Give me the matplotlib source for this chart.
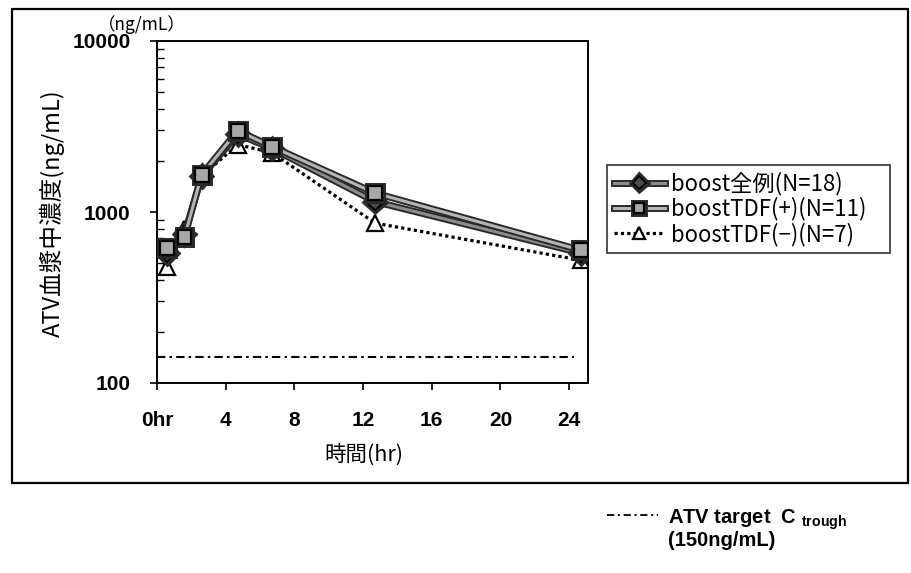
import matplotlib
matplotlib.use("Agg")
import matplotlib.pyplot as plt
import matplotlib.patheffects as pe
from matplotlib.patches import Rectangle
from matplotlib.lines import Line2D
from matplotlib.ticker import LogLocator, NullFormatter, FixedLocator, FixedFormatter

# ---- data ----
time_hr = [0.6, 1.6, 2.6, 4.7, 6.7, 12.7, 24.7]
boost_all = [575, 740, 1620, 2850, 2350, 1150, 575]
boost_tdf_pos = [614, 713, 1650, 2990, 2410, 1290, 597]
boost_tdf_neg = [474, 794, 1620, 2480, 2220, 861, 522]
target_x = [0, 24.3]
target_y = [142, 142]

x_ticks = [0, 4, 8, 12, 16, 20, 24]
x_tick_labels = ["0hr", "4", "8", "12", "16", "20", "24"]
y_ticks = [100, 1000, 10000]
y_tick_labels = ["100", "1000", "10000"]

labels = ["boost全例(N=18)", "boostTDF(+)(N=11)", "boostTDF(−)(N=7)"]

W, H = 911, 573
fig = plt.figure(figsize=(W / 100, H / 100), dpi=100)
fig.patch.set_facecolor("white")

cjk = ["Noto Sans CJK JP", "DejaVu Sans"]


def fx(px):
    return px / W


def fy(py):
    return 1 - py / H


# outer frame
fig.patches.append(Rectangle((fx(12), fy(483)), (908 - 12) / W, (483 - 9) / H,
                             transform=fig.transFigure, fill=False,
                             edgecolor="black", linewidth=1.6))

ax = fig.add_axes([fx(157), fy(383), (588 - 157) / W, (383 - 41) / H])
ax.set_yscale("log")
ax.set_xlim(0, 25.1)
ax.set_ylim(100, 10000)

dashdot = (0, (4, 2, 1.2, 2))
ax.plot(target_x, target_y, color="black", linewidth=1.5,
        linestyle=dashdot, zorder=2)

l_neg, = ax.plot(time_hr, boost_tdf_neg, color="black", linewidth=2.3,
                 linestyle=(0, (1, 1)), marker="^", markersize=11,
                 markerfacecolor="white", markeredgecolor="black",
                 markeredgewidth=1.6, zorder=3)
l_all, = ax.plot(time_hr, boost_all, color="#8c8c8c", linewidth=2.2,
                 marker="D", markersize=9, markerfacecolor="#4a4a4a",
                 markeredgecolor="black", markeredgewidth=1.2,
                 path_effects=[pe.Stroke(linewidth=5.0, foreground="#2a2a2a"),
                               pe.Normal()], zorder=4)
l_pos, = ax.plot(time_hr, boost_tdf_pos, color="#b5b5b5", linewidth=2.2,
                 marker="s", markersize=10, markerfacecolor="#a8a8a8",
                 markeredgecolor="black", markeredgewidth=1.6,
                 path_effects=[pe.Stroke(linewidth=5.0, foreground="#2a2a2a"),
                               pe.Normal()], zorder=5)

# axes styling
for side in ["top", "right", "left", "bottom"]:
    ax.spines[side].set_linewidth(1.4)
ax.xaxis.set_major_locator(FixedLocator(x_ticks))
ax.xaxis.set_major_formatter(FixedFormatter(x_tick_labels))
ax.yaxis.set_major_locator(FixedLocator(y_ticks))
ax.yaxis.set_major_formatter(FixedFormatter(y_tick_labels))
ax.yaxis.set_minor_locator(LogLocator(base=10, subs=range(2, 10)))
ax.yaxis.set_minor_formatter(NullFormatter())
ax.tick_params(axis="x", direction="out", length=5, width=1.2, pad=15)
ax.tick_params(axis="y", which="major", direction="out", length=5, width=1.2, pad=14)
ax.tick_params(axis="y", which="minor", direction="in", length=5, width=1.0)
for lab in ax.get_xticklabels() + ax.get_yticklabels():
    lab.set_fontfamily("Liberation Sans")
    lab.set_fontweight("bold")
    lab.set_fontsize(15)

fig.text(fx(364), fy(455), "時間(hr)", fontfamily=cjk, fontsize=15.5,
         ha="center", va="center")
fig.text(fx(52), fy(213), "ATV血漿中濃度(ng/mL)", fontfamily=cjk, fontsize=17,
         rotation=90, ha="center", va="center")
fig.text(fx(142), fy(25), "（ng/mL）", fontfamily=cjk, fontsize=12.5,
         ha="center", va="center")

leg = fig.legend([l_all, l_pos, l_neg], labels,
                 loc="upper left", mode="expand",
                 bbox_to_anchor=(fx(607), fy(255), (890 - 607) / W, (255 - 165) / H),
                 prop={"family": cjk, "size": 16}, frameon=True,
                 fancybox=False, edgecolor="black", handlelength=2.3,
                 handletextpad=0.3, borderpad=0.3, labelspacing=0.08,
                 numpoints=1, borderaxespad=0, markerscale=0.75)
leg.get_frame().set_linewidth(1.2)

# bottom legend for the target line
fig.add_artist(Line2D([fx(607), fx(658)], [fy(515), fy(515)],
                      transform=fig.transFigure, color="black", linewidth=1.3,
                      linestyle=dashdot))
fig.text(fx(668), fy(520), r"ATV target  C $_{\mathregular{trough}}$",
         fontfamily="Liberation Sans", fontweight="bold", fontsize=14.5,
         ha="left", va="center")
fig.text(fx(668), fy(541), "(150ng/mL)",
         fontfamily="Liberation Sans", fontweight="bold", fontsize=14.5,
         ha="left", va="center")

fig.savefig("out.png", dpi=100, facecolor="white")
